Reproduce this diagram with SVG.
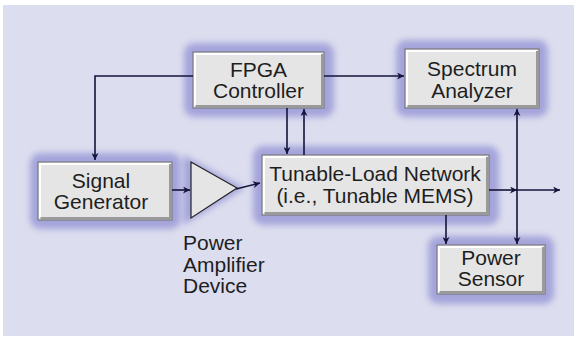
<svg xmlns="http://www.w3.org/2000/svg" width="577" height="338" viewBox="0 0 577 338">
<defs>
<style>
.glow{fill:#a4a4db;filter:url(#blur)}
.box{fill:#e5e5e5;stroke:#6e6e6e;stroke-width:1}
.hl{fill:none;stroke:#ffffff;stroke-width:2}
.sh{fill:none;stroke:#9a9a9a;stroke-width:3}
.t{font-family:"Liberation Sans",Arial,sans-serif;font-size:21px;fill:#1e1e1e;text-anchor:middle}
.lbl{font-family:"Liberation Sans",Arial,sans-serif;font-size:21px;fill:#1e1e1e}
.c{fill:none;stroke:#14143a;stroke-width:1.6}
</style>
<filter id="blur" x="-20%" y="-20%" width="140%" height="140%"><feGaussianBlur stdDeviation="3"/></filter>
<marker id="ah" viewBox="0 0 10 10" refX="10" refY="5" markerWidth="7" markerHeight="7" markerUnits="userSpaceOnUse" orient="auto"><path d="M0,0 L10,5 L0,10 L3,5 Z" fill="#14143a"/></marker>
</defs>
<rect x="0" y="0" width="577" height="338" fill="#ffffff"/>
<rect x="3" y="5" width="571" height="331" fill="#dcddee"/>

<g id="fpga">
<rect class="glow" x="184" y="43" width="150" height="74" rx="10"/>
<rect class="box" x="193" y="52" width="131" height="56"/>
<path class="hl" d="M195,106 V54 H322"/>
<path class="sh" d="M195.5,106.5 H322.5 V54"/>
<text class="t" x="258.5" y="77">FPGA</text>
<text class="t" x="258.5" y="98">Controller</text>
</g>

<g id="spectrum">
<rect class="glow" x="396" y="40" width="152" height="77" rx="10"/>
<rect class="box" x="405" y="49" width="134" height="59"/>
<path class="hl" d="M407,106 V51 H537"/>
<path class="sh" d="M407.5,106.5 H537.5 V51"/>
<text class="t" x="472" y="76">Spectrum</text>
<text class="t" x="472" y="98">Analyzer</text>
</g>

<g id="siggen">
<rect class="glow" x="30" y="153" width="151" height="76" rx="10"/>
<rect class="box" x="38" y="162" width="134" height="58"/>
<path class="hl" d="M40,218 V164 H170"/>
<path class="sh" d="M40.5,218.5 H170.5 V164"/>
<text class="t" x="101" y="188">Signal</text>
<text class="t" x="101" y="209">Generator</text>
</g>

<g id="amp">
<path class="glow" d="M183,155 L245,188 L183,225 Z"/>
<path d="M191,162 L237,188 L191,218 Z" fill="#e5e5e5" stroke="#222" stroke-width="1.2"/>
<text class="lbl" x="183" y="250">Power</text>
<text class="lbl" x="183" y="272">Amplifier</text>
<text class="lbl" x="183" y="293">Device</text>
</g>

<g id="tunable">
<rect class="glow" x="253" y="146" width="246" height="79" rx="10"/>
<rect class="box" x="262" y="155" width="227" height="60"/>
<path class="hl" d="M264,213 V157 H487"/>
<path class="sh" d="M264.5,213.5 H487.5 V157"/>
<text class="t" x="375" y="181">Tunable-Load Network</text>
<text class="t" x="375" y="203">(i.e., Tunable MEMS)</text>
</g>

<g id="sensor">
<rect class="glow" x="428" y="236" width="126" height="68" rx="10"/>
<rect class="box" x="437" y="245" width="108" height="49"/>
<path class="hl" d="M439,292 V247 H543"/>
<path class="sh" d="M439.5,292.5 H543.5 V247"/>
<text class="t" x="491" y="265">Power</text>
<text class="t" x="491" y="286">Sensor</text>
</g>

<g id="connectors">
<path class="c" d="M193,76 H95 V160" marker-end="url(#ah)"/>
<path class="c" d="M324,76 H404" marker-end="url(#ah)"/>
<path class="c" d="M287,108 V154" marker-end="url(#ah)"/>
<path class="c" d="M304,155 V109" marker-end="url(#ah)"/>
<path class="c" d="M172,190 H190" marker-end="url(#ah)"/>
<path class="c" d="M236,189 L260,183" marker-end="url(#ah)"/>
<path class="c" d="M489,190 H517" marker-end="url(#ah)"/>
<path class="c" d="M517,190 H560" marker-end="url(#ah)"/>
<path class="c" d="M517,190 V109" marker-end="url(#ah)"/>
<path class="c" d="M517,190 V244" marker-end="url(#ah)"/>
<path class="c" d="M446,215 V244" marker-end="url(#ah)"/>
</g>
</svg>
